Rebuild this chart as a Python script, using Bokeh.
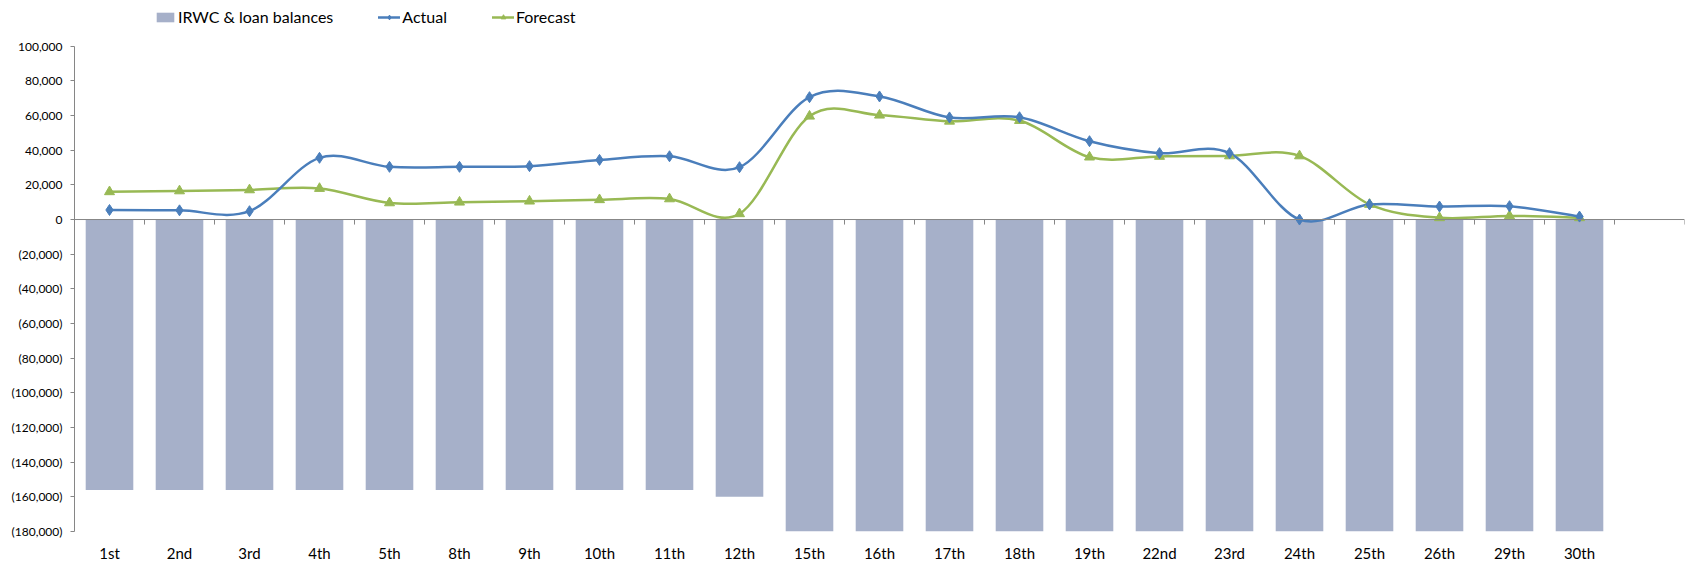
import numpy as np
from bokeh.plotting import figure
from bokeh.models import (ColumnDataSource, FixedTicker, NumeralTickFormatter,
                          Legend, LegendItem, Range1d, Span)
from bokeh.embed import file_html
from bokeh.resources import INLINE

# Business days of the month (the last slot is left empty on the axis)
days = ["1st", "2nd", "3rd", "4th", "5th", "8th", "9th", "10th", "11th", "12th",
        "15th", "16th", "17th", "18th", "19th", "22nd", "23rd", "24th", "25th",
        "26th", "29th", "30th", ""]

irwc_loans = [-156000, -156000, -156000, -156000, -156000, -156000, -156000,
              -156000, -156000, -160000, -190000, -190000, -190000, -190000,
              -190000, -190000, -190000, -190000, -190000, -190000, -190000,
              -190000]

actual = [5500, 5300, 4800, 35600, 30400, 30400, 30800, 34400, 36500, 30200,
          70600, 71000, 58900, 59000, 45200, 38300, 38300, 0, 8700, 7500,
          7700, 1700]

forecast = [16000, 16500, 17100, 17900, 9600, 10000, 10600, 11400, 11900, 3300,
            59600, 60200, 56700, 57100, 36000, 36400, 36700, 36700, 8700, 1000,
            2100, 1000]

y_ticks = list(range(-180000, 100001, 20000))

FONT = "Lato"
BAR = "#A6B0C9"
BLUE = "#4A7EBB"
GREEN = "#98B954"
AXIS = "#868686"

n_slots = len(days)
x = np.arange(1, len(actual) + 1, dtype=float)

# Plot geometry: the value axis spans AXIS_PX pixels; HEAD_PX pixels above it
# hold the legend inside the same frame.
AXIS_PX = 485.3
HEAD_PX = 45.7
y_lo, y_hi = y_ticks[0], y_ticks[-1]
y_top = y_hi + (y_hi - y_lo) * HEAD_PX / AXIS_PX
FRAME_H = int(round(AXIS_PX + HEAD_PX))


def smooth_segments(xv, yv):
    """Cubic Bezier pieces through every point (Catmull-Rom style smoothing)."""
    yv = np.asarray(yv, dtype=float)
    n = len(xv)
    out = dict(x0=[], y0=[], x1=[], y1=[], cx0=[], cy0=[], cx1=[], cy1=[])
    for i in range(n - 1):
        a = max(i - 1, 0)
        d = min(i + 2, n - 1)
        out["x0"].append(xv[i]); out["y0"].append(yv[i])
        out["x1"].append(xv[i + 1]); out["y1"].append(yv[i + 1])
        out["cx0"].append(xv[i] + (xv[i + 1] - xv[a]) / 6.0)
        out["cy0"].append(yv[i] + (yv[i + 1] - yv[a]) / 6.0)
        out["cx1"].append(xv[i + 1] - (xv[d] - xv[i]) / 6.0)
        out["cy1"].append(yv[i + 1] - (yv[d] - yv[i]) / 6.0)
    return ColumnDataSource(out)


p = figure(width=1685, height=563, frame_width=1610, frame_height=FRAME_H,
           output_backend="svg", toolbar_location=None,
           x_range=Range1d(0.5, n_slots + 0.5),
           y_range=Range1d(y_lo, y_top),
           min_border_left=74, min_border_right=1, min_border_top=0,
           min_border_bottom=32)
p.outline_line_color = None
p.grid.visible = False
p.background_fill_color = "white"

# Bars for the IRWC & loan balances
bars = p.vbar(x=x, top=0, bottom=irwc_loans, width=0.68, fill_color=BAR,
              line_color=None)

# Horizontal category axis line at zero with tick marks between the days
p.add_layout(Span(location=0, dimension="width", line_color=AXIS, line_width=1))
bounds = np.arange(n_slots + 1) + 0.5
p.segment(x0=bounds, x1=bounds, y0=0, y1=-2900, line_color=AXIS, line_width=1)

# Smoothed lines with markers
act_src = smooth_segments(x, actual)
fc_src = smooth_segments(x, forecast)
fc_line = p.bezier(x0="x0", y0="y0", x1="x1", y1="y1", cx0="cx0", cy0="cy0",
                   cx1="cx1", cy1="cy1", source=fc_src, line_color=GREEN,
                   line_width=2.5, line_cap="round")
act_line = p.bezier(x0="x0", y0="y0", x1="x1", y1="y1", cx0="cx0", cy0="cy0",
                    cx1="cx1", cy1="cy1", source=act_src, line_color=BLUE,
                    line_width=2.5, line_cap="round")
fc_pts = p.scatter(x=x, y=forecast, marker="triangle", size=10,
                   fill_color=GREEN, line_color=GREEN)
act_pts = p.scatter(x=x, y=actual, marker="diamond", size=11,
                    fill_color=BLUE, line_color=BLUE)

# Axes
xa = p.xaxis[0]
xa.ticker = FixedTicker(ticks=list(range(1, n_slots + 1)))
xa.major_label_overrides = {i + 1: lab for i, lab in enumerate(days)}
xa.axis_line_color = None
xa.major_tick_line_color = None
xa.major_tick_in = 0
xa.major_tick_out = 0
xa.minor_tick_line_color = None
xa.minor_tick_out = 0
xa.major_label_standoff = 12
xa.major_label_text_font = FONT
xa.major_label_text_font_size = "15px"
xa.major_label_text_color = "#000000"

ya = p.yaxis[0]
ya.ticker = FixedTicker(ticks=y_ticks)
ya.bounds = (y_lo, y_hi)
ya.formatter = NumeralTickFormatter(format="(0,0)")
ya.axis_line_color = AXIS
ya.major_tick_line_color = AXIS
ya.major_tick_in = 0
ya.major_tick_out = 4
ya.minor_tick_line_color = None
ya.major_label_standoff = 8
ya.major_label_text_font = FONT
ya.major_label_text_font_size = "12px"
ya.major_label_text_color = "#000000"

legend = Legend(items=[
    LegendItem(label="IRWC & loan balances", renderers=[bars]),
    LegendItem(label="Actual", renderers=[act_line, act_pts]),
    LegendItem(label="Forecast", renderers=[fc_line, fc_pts]),
], orientation="horizontal", location=(80, FRAME_H - 26),
    label_text_font=FONT, label_text_font_size="16px",
    label_text_color="#000000", glyph_width=22, glyph_height=12,
    label_standoff=2, spacing=45, padding=0, margin=0,
    border_line_color=None, background_fill_alpha=0)
p.add_layout(legend)

open("out.html", "w").write(file_html(p, INLINE))
